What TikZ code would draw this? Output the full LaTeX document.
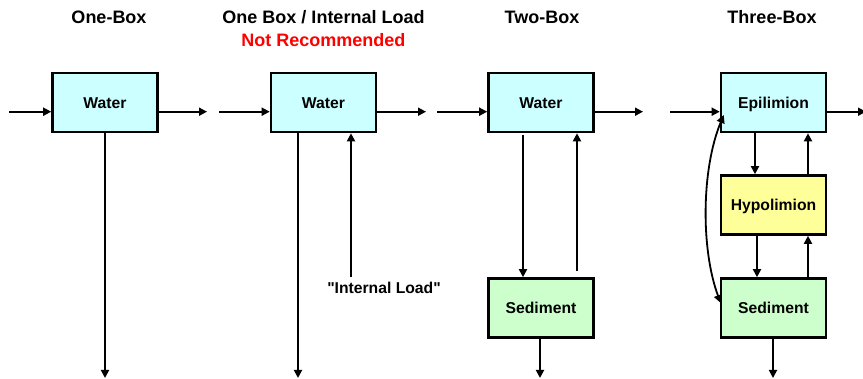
\documentclass[tikz,border=0pt]{standalone}
\usepackage{fontspec}
\setmainfont{Liberation Sans}
\usetikzlibrary{arrows.meta}
\definecolor{watercol}{HTML}{CCFFFF}
\definecolor{hypocol}{HTML}{FFFF99}
\definecolor{sedcol}{HTML}{CCFFCC}
\begin{document}
\begin{tikzpicture}[x=1pt,y=-1pt,
  box/.style={draw, line width=2.6pt, minimum width=105pt, minimum height=59pt, inner sep=0pt,
    font=\fontsize{15.7}{18}\selectfont\bfseries, text height=11.3pt, text depth=0pt},
  watbox/.style={box, fill=watercol},
  hypbox/.style={box, fill=hypocol},
  sedbox/.style={box, fill=sedcol},
  title/.style={font=\fontsize{18}{20}\selectfont\bfseries, anchor=base, inner sep=0pt},
  lbl/.style={font=\fontsize{15.7}{18}\selectfont\bfseries, anchor=base, inner sep=0pt},
  flow/.style={line width=1.8pt, -{Triangle[length=8pt,width=8pt]}},
  dflow/.style={line width=1.8pt, {Triangle[length=8pt,width=8pt]}-{Triangle[length=8pt,width=8pt]}}
]
\useasboundingbox (0,0) rectangle (863,379);

% titles
\node[title] (t1) at (109,24) {One-Box};
\node[title] (t2) at (323.5,24) {One Box / Internal Load};
\node[title, text=red] (t2b) at (323.5,47) {Not Recommended};
\node[title] (t3) at (542,24) {Two-Box};
\node[title] (t4) at (772,24) {Three-Box};

% boxes
\node[watbox] (w1) at (105,102.5) {Water};
\node[watbox] (w2) at (323.5,102.5) {Water};
\node[watbox] (w3) at (541,102.5) {Water};
\node[sedbox] (s3) at (541,308) {Sediment};
\node[watbox] (e4) at (773.5,102.5) {Epilimion};
\node[hypbox] (h4) at (773.5,205) {Hypolimion};
\node[sedbox] (s4) at (773.5,308) {Sediment};

% free ends
\coordinate (in1) at (9,111.7);
\coordinate (out1) at (207,111.7);
\coordinate (bot1) at (105,378);
\coordinate (in2) at (219,111.7);
\coordinate (out2) at (426,111.7);
\coordinate (bot2) at (298,378);
\coordinate (il) at (351,277);
\coordinate (in3) at (437,111.7);
\coordinate (out3) at (643,111.7);
\coordinate (bot3) at (540,378);
\coordinate (in4) at (670,111.7);
\coordinate (out4) at (866,111.7);
\coordinate (bot4) at (773,378);

% one-box
\draw[flow] (in1) -- (in1 -| w1.west);
\draw[flow] (in1 -| w1.east) -- (out1);
\draw[flow] (w1.south) -- (bot1);

% one box / internal load
\draw[flow] (in2) -- (in2 -| w2.west);
\draw[flow] (in2 -| w2.east) -- (out2);
\draw[flow] (bot2 |- w2.south) -- (bot2);
\draw[flow] (il) -- (il |- w2.south);
\node[lbl] (ill) at (384,294) {\textquotedbl Internal Load\textquotedbl};

% two-box
\draw[flow] (in3) -- (in3 -| w3.west);
\draw[flow] (in3 -| w3.east) -- (out3);
\draw[flow] ([xshift=-18pt,yshift=-2pt]w3.south) -- ([xshift=-18pt]s3.north);
\draw[flow] ([xshift=36pt,yshift=6pt]s3.north) -- ([xshift=36pt]w3.south);
\draw[flow] ([xshift=-1pt]s3.south) -- (bot3);

% three-box
\draw[flow] (in4) -- (in4 -| e4.west);
\draw[flow] (in4 -| e4.east) -- (out4);
\draw[flow] ([xshift=-18.5pt]e4.south) -- ([xshift=-18.5pt]h4.north);
\draw[flow] ([xshift=34.5pt]h4.north) -- ([xshift=34.5pt]e4.south);
\draw[flow] ([xshift=-16.5pt]h4.south) -- ([xshift=-16.5pt]s4.north);
\draw[flow] ([xshift=34.5pt]s4.north) -- ([xshift=34.5pt]h4.south);
\draw[flow] ([xshift=-0.5pt]s4.south) -- (bot4);
\draw[dflow] ([xshift=1pt,yshift=5pt]s4.west) .. controls (701,250) and (701,170) .. ([xshift=4pt,yshift=-12.5pt]e4.west);
\end{tikzpicture}
\end{document}
